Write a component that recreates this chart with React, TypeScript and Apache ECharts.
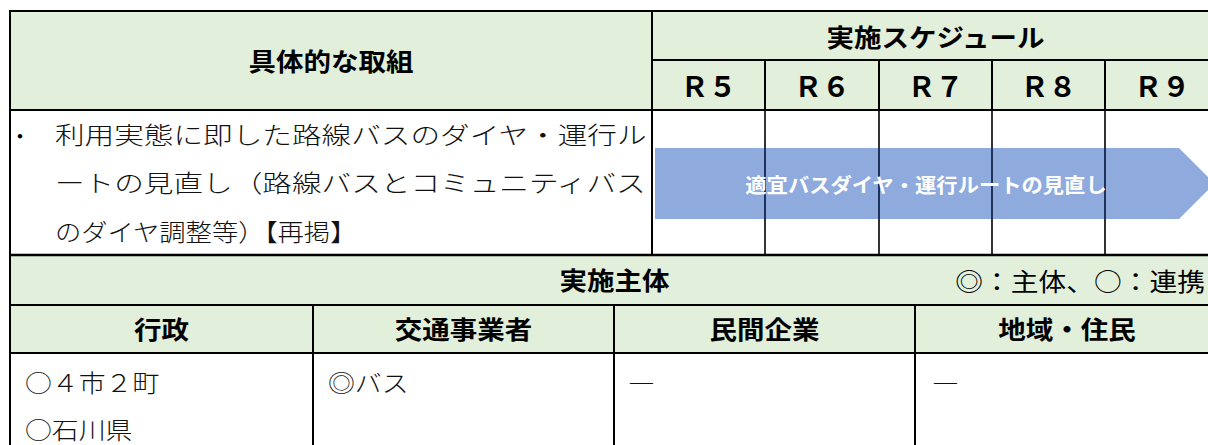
import React, { useEffect, useRef } from "react";
import * as echarts from "echarts";

// ---- content ----
const taskTitle = "具体的な取組";
const scheduleTitle = "実施スケジュール";
const years = ["Ｒ５", "Ｒ６", "Ｒ７", "Ｒ８", "Ｒ９"];
const taskBullet = "・";
const taskLines = [
  "利用実態に即した路線バスのダイヤ・運行ル",
  "ートの見直し（路線バスとコミュニティバス",
  "のダイヤ調整等）【再掲】",
];
const arrowLabel = "適宜バスダイヤ・運行ルートの見直し";
const arrowFrom = 0; // index in years
const arrowTo = 4;
const actorTitle = "実施主体";
const actorLegend = "◎：主体、○：連携";
const actorHeads = ["行政", "交通事業者", "民間企業", "地域・住民"];
const actorValues = [["○４市２町", "○石川県"], ["◎バス"], ["―"], ["―"]];

// ---- layout ----
const W = 1208;
const H = 445;
const LEFT = 10;
const RIGHT = 1219;
const SPLIT = 652;
const yearEdges = [652, 765, 879, 992, 1105, 1219];
const actorEdges = [10, 313, 614, 915, 1219];
const Y_TOP = 11;
const Y_SCHED = 60;
const Y_HEAD = 110;
const Y_BODY = 255;
const Y_ACT1 = 305;
const Y_ACT2 = 353;

const FONT = '"Noto Sans CJK JP", "Noto Sans CJK SC", sans-serif';
const GREEN = "#E2EFDA";
const ARROW = "#8FAADC";
const NAVY = "#1F3864";

function txt(
  text: string,
  x: number,
  y: number,
  size: number,
  opts: { weight?: any; align?: string; scaleX?: number; fill?: string } = {}
) {
  const align = opts.align || "center";
  return {
    type: "text",
    x,
    y,
    scaleX: opts.scaleX || 1,
    silent: true,
    style: {
      text,
      fill: opts.fill || "#000",
      fontSize: size,
      fontWeight: opts.weight || "normal",
      fontFamily: FONT,
      align,
      textAlign: align,
      verticalAlign: "middle",
      textVerticalAlign: "middle",
    },
  };
}

function line(x1: number, y1: number, x2: number, y2: number, w = 2, stroke = "#000") {
  return {
    type: "line",
    silent: true,
    shape: { x1, y1, x2, y2 },
    style: { stroke, lineWidth: w },
  };
}

function buildElements() {
  const els: any[] = [];
  // fills
  els.push({ type: "rect", shape: { x: LEFT, y: Y_TOP, width: RIGHT - LEFT, height: Y_HEAD - Y_TOP }, style: { fill: GREEN } });
  els.push({ type: "rect", shape: { x: LEFT, y: Y_BODY, width: RIGHT - LEFT, height: Y_ACT2 - Y_BODY }, style: { fill: GREEN } });
  els.push({ type: "rect", shape: { x: LEFT, y: Y_HEAD, width: RIGHT - LEFT, height: Y_BODY - Y_HEAD }, style: { fill: "#fff" } });
  els.push({ type: "rect", shape: { x: LEFT, y: Y_ACT2, width: RIGHT - LEFT, height: H - Y_ACT2 }, style: { fill: "#fff" } });

  // arrow
  const ax0 = yearEdges[arrowFrom] + 3;
  const ax1 = yearEdges[arrowTo + 1];
  const ay0 = 148;
  const ay1 = 219;
  const half = (ay1 - ay0) / 2;
  els.push({
    type: "polygon",
    silent: true,
    shape: {
      points: [
        [ax0, ay0],
        [ax1 - 40, ay0],
        [ax1 - 40 + half, ay0 + half],
        [ax1 - 40, ay1],
        [ax0, ay1],
      ],
    },
    style: { fill: ARROW },
  });

  // grid lines
  els.push(line(LEFT - 1, Y_TOP, RIGHT, Y_TOP));
  els.push(line(LEFT, Y_TOP, LEFT, H + 2));
  els.push(line(SPLIT, Y_TOP, SPLIT, Y_BODY));
  els.push(line(SPLIT, Y_SCHED, RIGHT, Y_SCHED));
  els.push(line(LEFT, Y_HEAD, RIGHT, Y_HEAD));
  for (let i = 1; i < yearEdges.length - 1; i++) {
    els.push(line(yearEdges[i], Y_SCHED, yearEdges[i], Y_HEAD));
    els.push(line(yearEdges[i], Y_HEAD, yearEdges[i], Y_BODY, 1.6));
    els.push(line(yearEdges[i], ay0, yearEdges[i], ay1, 1.6, NAVY));
  }
  els.push(line(LEFT, Y_BODY, RIGHT, Y_BODY, 2.5));
  els.push(line(LEFT, Y_ACT1, RIGHT, Y_ACT1));
  els.push(line(LEFT, Y_ACT2, RIGHT, Y_ACT2));
  for (let i = 1; i < actorEdges.length - 1; i++) {
    els.push(line(actorEdges[i], Y_ACT1, actorEdges[i], H + 2));
  }

  // header texts
  els.push(txt(taskTitle, (LEFT + SPLIT) / 2, (Y_TOP + Y_HEAD) / 2, 25, { weight: "bold", scaleX: 1.1 }));
  els.push(txt(scheduleTitle, (SPLIT + RIGHT) / 2, (Y_TOP + Y_SCHED) / 2 + 1, 25, { weight: "bold", scaleX: 1.1 }));
  years.forEach((y, i) => {
    els.push(txt(y, (yearEdges[i] + yearEdges[i + 1]) / 2, (Y_SCHED + Y_HEAD) / 2, 28, { weight: "bold" }));
  });

  // task text
  els.push(txt(taskBullet, 20, 134, 24, { weight: 300 }));
  const lineYs = [134, 182, 231];
  taskLines.forEach((t, i) => {
    const n = t.length;
    const target = i < 2 ? 593 : 26.3 * n;
    els.push(txt(t, 55, lineYs[i], 24, { weight: 300, align: "left", scaleX: target / (24 * n), fill: "#111" }));
  });

  // arrow label
  els.push(txt(arrowLabel, 926, (ay0 + ay1) / 2 + 1, 20, { weight: "bold", fill: "#fff", scaleX: 1.065 }));

  // actor section
  els.push(txt(actorTitle, (LEFT + RIGHT) / 2, (Y_BODY + Y_ACT1) / 2, 25, { weight: "bold", scaleX: 1.1 }));
  els.push(txt(actorLegend, 1205, (Y_BODY + Y_ACT1) / 2, 25, { align: "right", scaleX: 1.11 }));
  actorHeads.forEach((h, i) => {
    els.push(txt(h, (actorEdges[i] + actorEdges[i + 1]) / 2, (Y_ACT1 + Y_ACT2) / 2, 25, { weight: "bold", scaleX: 1.1 }));
  });
  const padL = [15, 15, 14, 17];
  actorValues.forEach((vals, i) => {
    vals.forEach((v, j) => {
      els.push(txt(v, actorEdges[i] + padL[i], 381 + j * 47, 24, { weight: 300, align: "left", scaleX: 1.12, fill: "#111" }));
    });
  });
  return els;
}

export default function App() {
  const ref = useRef<HTMLDivElement>(null);
  useEffect(() => {
    if (!ref.current) return;
    const chart = echarts.init(ref.current, null, { renderer: "svg" });
    chart.setOption({
      animation: false,
      backgroundColor: "#fff",
      graphic: { elements: buildElements() },
    });
    return () => chart.dispose();
  }, []);
  return (
    <div
      ref={ref}
      style={{ position: "fixed", left: 0, top: 0, width: W, height: H, background: "#fff" }}
    />
  );
}
